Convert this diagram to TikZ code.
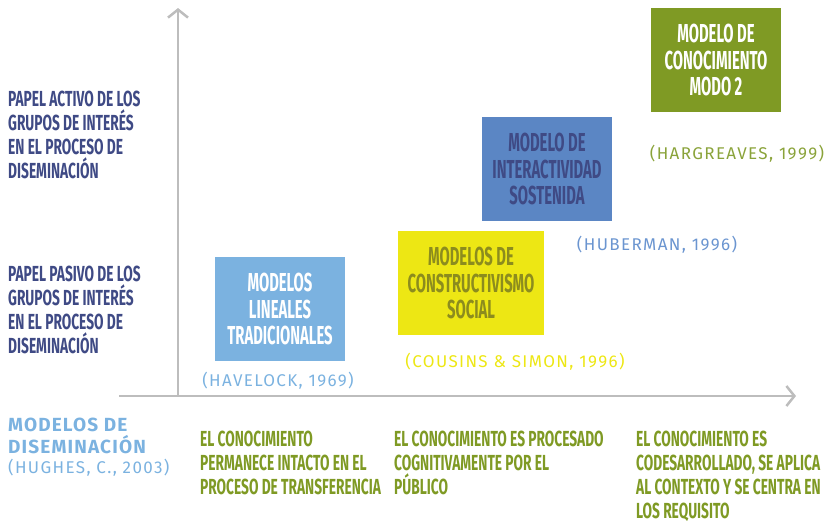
\documentclass[tikz,border=0pt]{standalone}
\usepackage{fontspec}
\usepackage{tikz}
\usetikzlibrary{arrows.meta,positioning}
\setmainfont{Fira Sans}
\newfontfamily\condfont[FakeStretch=0.57]{Fira Sans}
\newfontfamily\labelfont[FakeStretch=0.63]{Fira Sans}
\newfontfamily\citefont[LetterSpace=8]{Fira Sans}
\newfontfamily\widefont[LetterSpace=6]{Fira Sans}
\definecolor{navy}{HTML}{3F4A85}
\definecolor{lblue}{HTML}{7BB2E0}
\definecolor{yell}{HTML}{EDE714}
\definecolor{yelltext}{HTML}{8C8C1E}
\definecolor{mblue}{HTML}{5B86C4}
\definecolor{cblue}{HTML}{6B95D0}
\definecolor{olive}{HTML}{7F9A24}
\definecolor{colive}{HTML}{8AA33A}
\definecolor{axisgray}{HTML}{BDBDBD}
\begin{document}
\begin{tikzpicture}[x=1pt, y=-1pt,
box/.style={minimum width=130pt, minimum height=104pt, inner sep=0pt, align=center,
  font=\condfont\bfseries\fontsize{26}{26.5}\selectfont},
side/.style={anchor=north west, inner sep=0pt, align=left, text=navy,
  font=\labelfont\bfseries\fontsize{21.8}{24}\selectfont},
effect/.style={anchor=north west, inner sep=0pt, align=left, text=olive,
  font=\labelfont\bfseries\fontsize{21.8}{24}\selectfont},
cite/.style={inner sep=0pt, font=\citefont\fontsize{17}{17}\selectfont},
axis/.style={draw=axisgray, line width=2.5pt, -{Straight Barb[length=8pt, width=20pt]}}
]
\useasboundingbox (0,0) rectangle (826,520);
%Nodes
\node[box, fill=lblue, text=white]        (lin)    at (280,309)   {MODELOS\\LINEALES\\TRADICIONALES};
\node[box, fill=yell, text=yelltext, minimum width=146pt] (cons) at (471,283) {MODELOS DE\\CONSTRUCTIVISMO\\SOCIAL};
\node[box, fill=mblue, text=navy]         (inter)  at (547,169)   {MODELO DE\\INTERACTIVIDAD\\SOSTENIDA};
\node[box, fill=olive, text=white]        (modo)   at (716,60)    {MODELO DE\\CONOCIMIENTO\\MODO 2};
\node[cite, text=lblue]    (havelock)   at (278,381)              {(HAVELOCK, 1969)};
\node[cite, text=yell]     (cousins)    at (515,362)              {(COUSINS \& SIMON, 1996)};
\node[cite, text=cblue]    (huberman)   at (657,245)              {(HUBERMAN, 1996)};
\node[cite, text=colive]   (hargreaves) at (737,154)              {(HARGREAVES, 1999)};
\node[side]      (activo)   at (8,91)    {PAPEL ACTIVO DE LOS\\GRUPOS DE INTERÉS\\EN EL PROCESO DE\\DISEMINACIÓN};
\node[side]      (pasivo)   at (8,266)   {PAPEL PASIVO DE LOS\\GRUPOS DE INTERÉS\\EN EL PROCESO DE\\DISEMINACIÓN};
\node[anchor=north west, inner sep=0pt, align=left, text=lblue,
  font=\widefont\bfseries\fontsize{19}{21.5}\selectfont] (modelos) at (8,418) {MODELOS DE\\DISEMINACIÓN};
\node[cite, text=lblue, anchor=west] (hughes) at (8,468) {(HUGHES, C., 2003)};
\node[effect]    (intacto)   at (200,431)  {EL CONOCIMIENTO\\PERMANECE INTACTO EN EL\\PROCESO DE TRANSFERENCIA};
\node[effect]    (procesado) at (394,431)  {EL CONOCIMIENTO ES PROCESADO\\COGNITIVAMENTE POR EL\\PÚBLICO};
\node[effect]    (codes)     at (636,431)  {EL CONOCIMIENTO ES\\CODESARROLLADO, SE APLICA\\AL CONTEXTO Y SE CENTRA EN\\LOS REQUISITO};
%Axes
\coordinate (o)     at (178,396);
\coordinate (ytop)  at (178,8);
\coordinate (xbeg)  at (119,396);
\coordinate (xend)  at (796,396);
\draw[axis] (xbeg) -- (xend);
\draw[axis] (o) -- (ytop);
\end{tikzpicture}
\end{document}
